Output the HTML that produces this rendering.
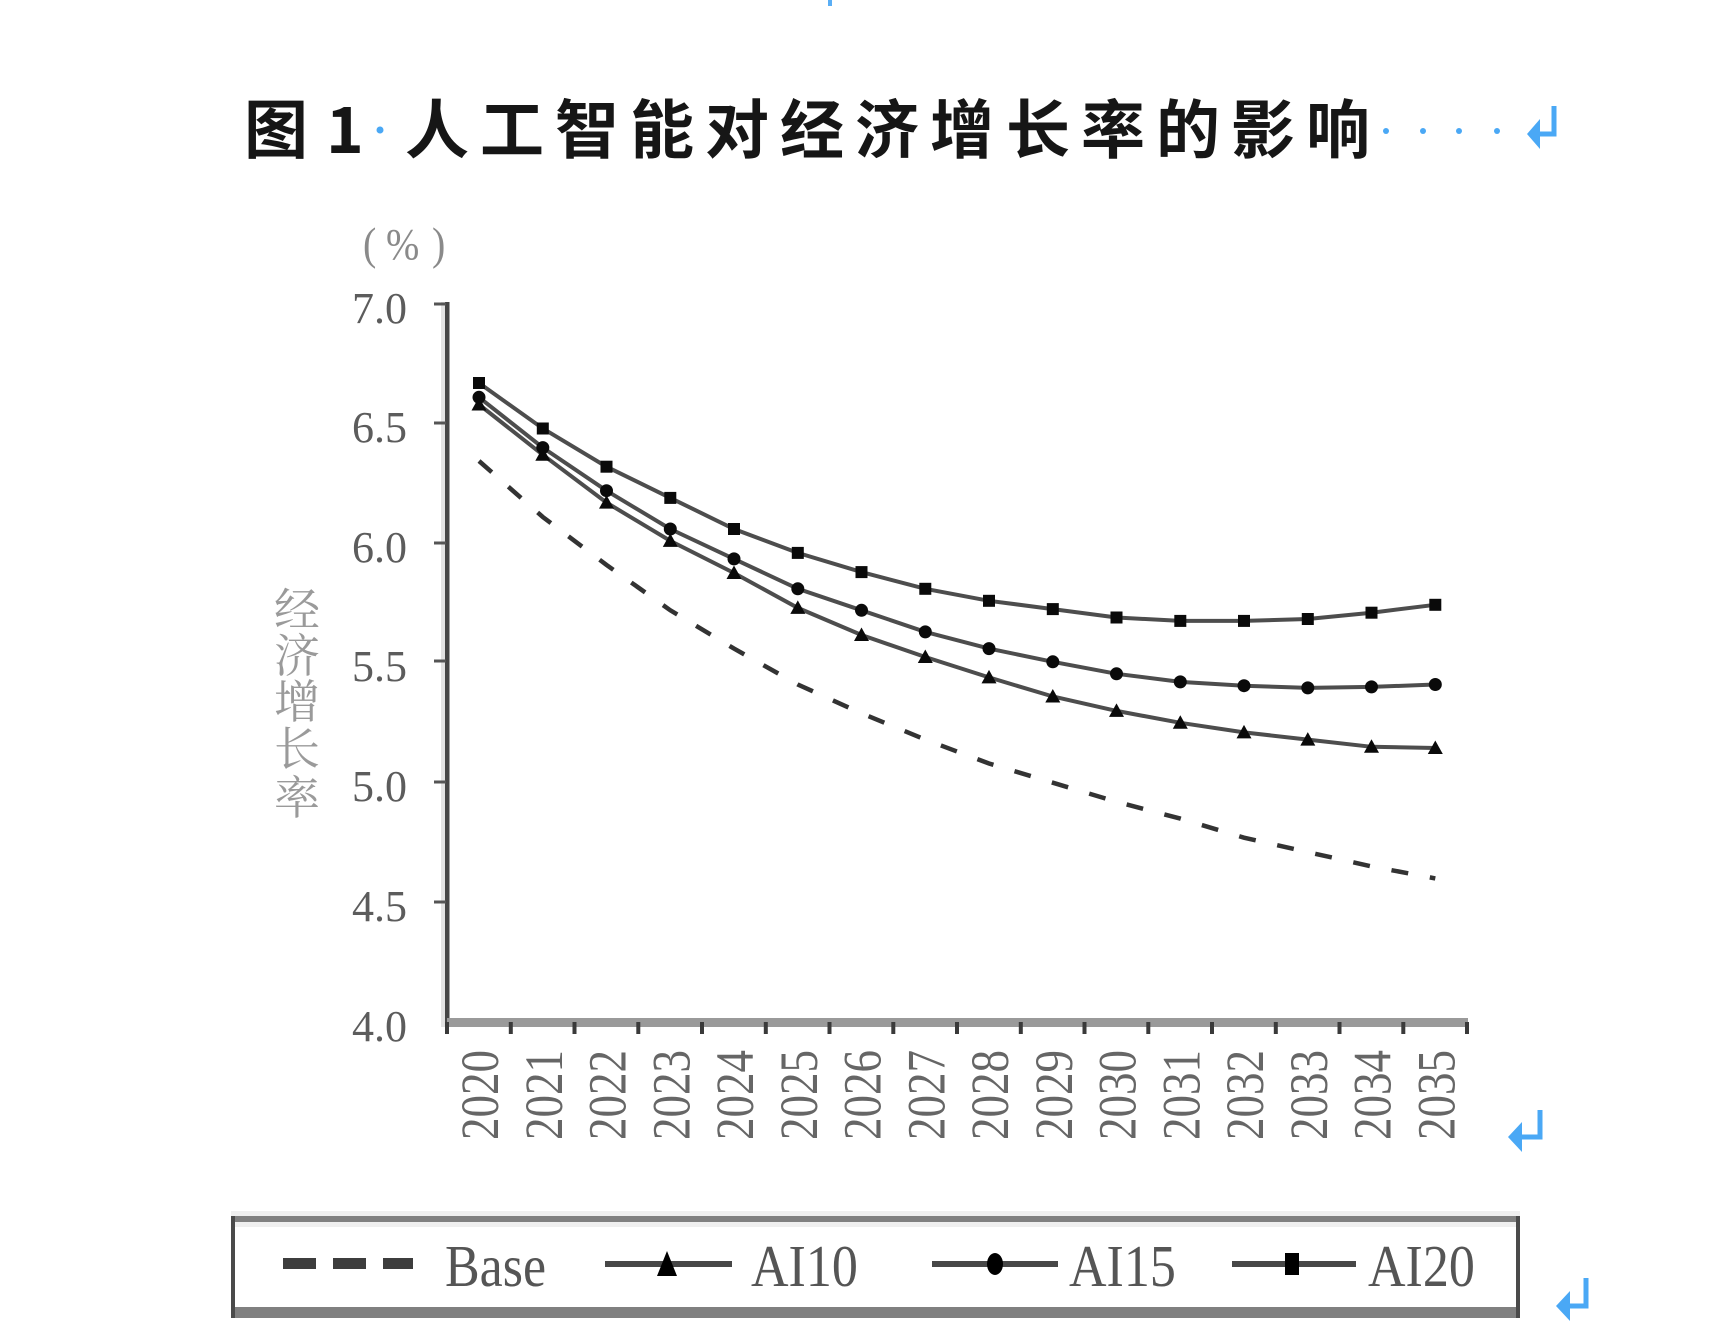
<!DOCTYPE html>
<html>
<head>
<meta charset="utf-8">
<style>
html,body{margin:0;padding:0;background:#fff;}
svg{display:block;}
</style>
</head>
<body>
<svg width="1722" height="1334" viewBox="0 0 1722 1334" xmlns="http://www.w3.org/2000/svg">
<defs>
  <marker id="sq" markerUnits="userSpaceOnUse" markerWidth="16" markerHeight="16" refX="8" refY="8" orient="0">
    <rect x="2" y="2" width="12" height="12" fill="#0a0a0a"/>
  </marker>
  <marker id="ci" markerUnits="userSpaceOnUse" markerWidth="16" markerHeight="16" refX="8" refY="8" orient="0">
    <circle cx="8" cy="8" r="6.5" fill="#0a0a0a"/>
  </marker>
  <marker id="tr" markerUnits="userSpaceOnUse" markerWidth="18" markerHeight="18" refX="9" refY="9" orient="0">
    <polygon points="9,1.5 16.5,15 1.5,15" fill="#0a0a0a"/>
  </marker>
</defs>

<!-- top blue mark -->
<rect x="828" y="0" width="4" height="6" fill="#5aaef5"/>

<!-- Title -->
<g font-family="'Noto Sans CJK SC','WenQuanYi Zen Hei',sans-serif" font-weight="700" font-size="64" fill="#161616">
  <text x="244" y="153">图</text>
  <text x="326" y="153">1</text>
  <text x="405 480 555 630 705 780 855 930 1006 1081 1156 1231 1306" y="153">人工智能对经济增长率的影响</text>
</g>
<circle cx="380" cy="130" r="3.5" fill="#4aa8f5"/>
<g fill="#4aa8f5">
  <circle cx="1386" cy="131" r="3"/>
  <circle cx="1423" cy="131" r="3"/>
  <circle cx="1459" cy="131" r="3"/>
  <circle cx="1497" cy="131" r="3"/>
</g>
<!-- title return arrow -->
<g stroke="#4aa8f5" stroke-width="5" fill="none">
  <path d="M1554,106 L1554,134 L1536,134"/>
</g>
<polygon points="1527,134 1540,119 1540,149" fill="#4aa8f5"/>

<!-- (%) -->
<g font-family="'Liberation Serif',serif" font-size="40" fill="#8a8a8a">
  <text transform="translate(363,259) scale(1,1.15)">(</text>
  <text transform="translate(386,259) scale(1,1.1)">%</text>
  <text transform="translate(432,259) scale(1,1.15)">)</text>
</g>

<!-- Y axis title -->
<g font-family="'Noto Serif CJK SC','Noto Sans CJK SC',serif" font-size="46" fill="#9a9a9a" text-anchor="middle">
  <text x="297" y="626">经</text>
  <text x="297" y="672">济</text>
  <text x="297" y="718">增</text>
  <text x="297" y="765">长</text>
  <text x="297" y="814">率</text>
</g>

<!-- Y axis -->
<rect x="441" y="302" width="4" height="725" fill="#e2e2e2"/>
<rect x="445" y="302" width="4.5" height="725" fill="#454545"/>
<g fill="#555">
  <rect x="434" y="302.5" width="12" height="3"/>
  <rect x="434" y="421.5" width="12" height="3"/>
  <rect x="434" y="541.5" width="12" height="3"/>
  <rect x="434" y="659.5" width="12" height="3"/>
  <rect x="434" y="780.5" width="12" height="3"/>
  <rect x="434" y="900.5" width="12" height="3"/>
</g>
<g font-family="'Liberation Serif',serif" font-size="44" fill="#5c5c5c" text-anchor="end">
  <text x="407" y="323">7.0</text>
  <text x="407" y="442">6.5</text>
  <text x="407" y="562">6.0</text>
  <text x="407" y="681">5.5</text>
  <text x="407" y="801">5.0</text>
  <text x="407" y="921">4.5</text>
  <text x="407" y="1041">4.0</text>
</g>

<!-- X axis -->
<rect x="447" y="1018" width="1021" height="9" fill="#9a9a9a"/>
<g fill="#3a3a3a">
  <rect x="445" y="1022" width="4" height="12"/>
  <rect x="508.8" y="1022" width="4" height="12"/>
  <rect x="572.5" y="1022" width="4" height="12"/>
  <rect x="636.3" y="1022" width="4" height="12"/>
  <rect x="700" y="1022" width="4" height="12"/>
  <rect x="763.8" y="1022" width="4" height="12"/>
  <rect x="827.5" y="1022" width="4" height="12"/>
  <rect x="891.3" y="1022" width="4" height="12"/>
  <rect x="955" y="1022" width="4" height="12"/>
  <rect x="1018.8" y="1022" width="4" height="12"/>
  <rect x="1082.5" y="1022" width="4" height="12"/>
  <rect x="1146.3" y="1022" width="4" height="12"/>
  <rect x="1210" y="1022" width="4" height="12"/>
  <rect x="1273.8" y="1022" width="4" height="12"/>
  <rect x="1337.5" y="1022" width="4" height="12"/>
  <rect x="1401.3" y="1022" width="4" height="12"/>
  <rect x="1465" y="1022" width="4" height="12"/>
</g>
<g font-family="'Liberation Serif',serif" font-size="45" fill="#666" text-anchor="end">
  <text transform="translate(498,1050) rotate(-90) scale(1,1.2)">2020</text>
  <text transform="translate(561.8,1050) rotate(-90) scale(1,1.2)">2021</text>
  <text transform="translate(625.5,1050) rotate(-90) scale(1,1.2)">2022</text>
  <text transform="translate(689.3,1050) rotate(-90) scale(1,1.2)">2023</text>
  <text transform="translate(753,1050) rotate(-90) scale(1,1.2)">2024</text>
  <text transform="translate(816.8,1050) rotate(-90) scale(1,1.2)">2025</text>
  <text transform="translate(880.5,1050) rotate(-90) scale(1,1.2)">2026</text>
  <text transform="translate(944.3,1050) rotate(-90) scale(1,1.2)">2027</text>
  <text transform="translate(1008,1050) rotate(-90) scale(1,1.2)">2028</text>
  <text transform="translate(1071.8,1050) rotate(-90) scale(1,1.2)">2029</text>
  <text transform="translate(1135.5,1050) rotate(-90) scale(1,1.2)">2030</text>
  <text transform="translate(1199.3,1050) rotate(-90) scale(1,1.2)">2031</text>
  <text transform="translate(1263,1050) rotate(-90) scale(1,1.2)">2032</text>
  <text transform="translate(1326.8,1050) rotate(-90) scale(1,1.2)">2033</text>
  <text transform="translate(1390.5,1050) rotate(-90) scale(1,1.2)">2034</text>
  <text transform="translate(1454.3,1050) rotate(-90) scale(1,1.2)">2035</text>
</g>
<!-- x-label return arrow -->
<g stroke="#4aa8f5" stroke-width="5" fill="none">
  <path d="M1540,1110 L1540,1137 L1518,1137"/>
</g>
<polygon points="1508,1137 1522,1122 1522,1152" fill="#4aa8f5"/>

<!-- Series -->
<polyline fill="none" stroke="#333" stroke-width="4.5" stroke-dasharray="17 22"
  points="479,461 542.8,517 606.5,564.9 670.3,610.3 734,648.6 797.8,684.5 861.5,713.3 925.3,739.6 989,763.5 1052.8,782.7 1116.5,801.8 1180.3,818.6 1244,837.7 1307.8,852.1 1371.5,866.4 1435.3,878.4"/>

<polyline fill="none" stroke="#4d4d4d" stroke-width="4" marker-start="url(#tr)" marker-mid="url(#tr)" marker-end="url(#tr)"
  points="479,404.5 542.8,454.8 606.5,502.6 670.3,540.9 734,573 797.8,607.9 861.5,635 925.3,657 989,677.4 1052.8,696.5 1116.5,710.9 1180.3,722.8 1244,732.4 1307.8,739.6 1371.5,746.8 1435.3,748"/>

<polyline fill="none" stroke="#4d4d4d" stroke-width="4" marker-start="url(#ci)" marker-mid="url(#ci)" marker-end="url(#ci)"
  points="479,397.3 542.8,447.6 606.5,490.7 670.3,529 734,558.9 797.8,588.8 861.5,610.3 925.3,631.9 989,648.6 1052.8,661.8 1116.5,673.8 1180.3,681.9 1244,685.7 1307.8,687.9 1371.5,686.9 1435.3,684.5"/>

<polyline fill="none" stroke="#4d4d4d" stroke-width="4" marker-start="url(#sq)" marker-mid="url(#sq)" marker-end="url(#sq)"
  points="479,383 542.8,428.5 606.5,466.7 670.3,497.9 734,529 797.8,552.9 861.5,572.1 925.3,588.8 989,600.8 1052.8,609.1 1116.5,617.5 1180.3,620.9 1244,620.9 1307.8,619 1371.5,612.7 1435.3,604.8"/>

<!-- Legend box -->
<rect x="231" y="1211" width="1289" height="5" fill="#efefef"/>
<rect x="231" y="1216" width="1289" height="6" fill="#808080"/>
<rect x="235" y="1222" width="1281" height="5" fill="#efefef"/>
<rect x="231" y="1307" width="1289" height="11" fill="#808080"/>
<rect x="231" y="1216" width="4" height="102" fill="#4a4a4a"/>
<rect x="1516" y="1216" width="4" height="102" fill="#4a4a4a"/>

<!-- legend items -->
<g fill="#3d3d3d">
  <rect x="283" y="1258" width="33" height="11"/>
  <rect x="333" y="1258" width="33" height="11"/>
  <rect x="383" y="1258" width="30" height="11"/>
</g>
<rect x="605" y="1261" width="127" height="6" fill="#474747"/>
<polygon points="667,1251 677,1276 657,1276" fill="#000"/>
<rect x="932" y="1261" width="126" height="6" fill="#474747"/>
<ellipse cx="995" cy="1264" rx="8" ry="11" fill="#000"/>
<rect x="1232" y="1261" width="124" height="6" fill="#474747"/>
<rect x="1285" y="1253" width="14" height="22" fill="#000"/>

<g font-family="'Liberation Serif',serif" font-size="52" fill="#555">
  <text transform="translate(445,1286) scale(1,1.13)">Base</text>
  <text transform="translate(751,1286) scale(1,1.13)">AI10</text>
  <text transform="translate(1069,1286) scale(1,1.13)">AI15</text>
  <text transform="translate(1368,1286) scale(1,1.13)">AI20</text>
</g>

<!-- legend return arrow -->
<g stroke="#4aa8f5" stroke-width="5" fill="none">
  <path d="M1586,1278 L1586,1306 L1566,1306"/>
</g>
<polygon points="1556,1306 1570,1291 1570,1321" fill="#4aa8f5"/>
</svg>
</body>
</html>
